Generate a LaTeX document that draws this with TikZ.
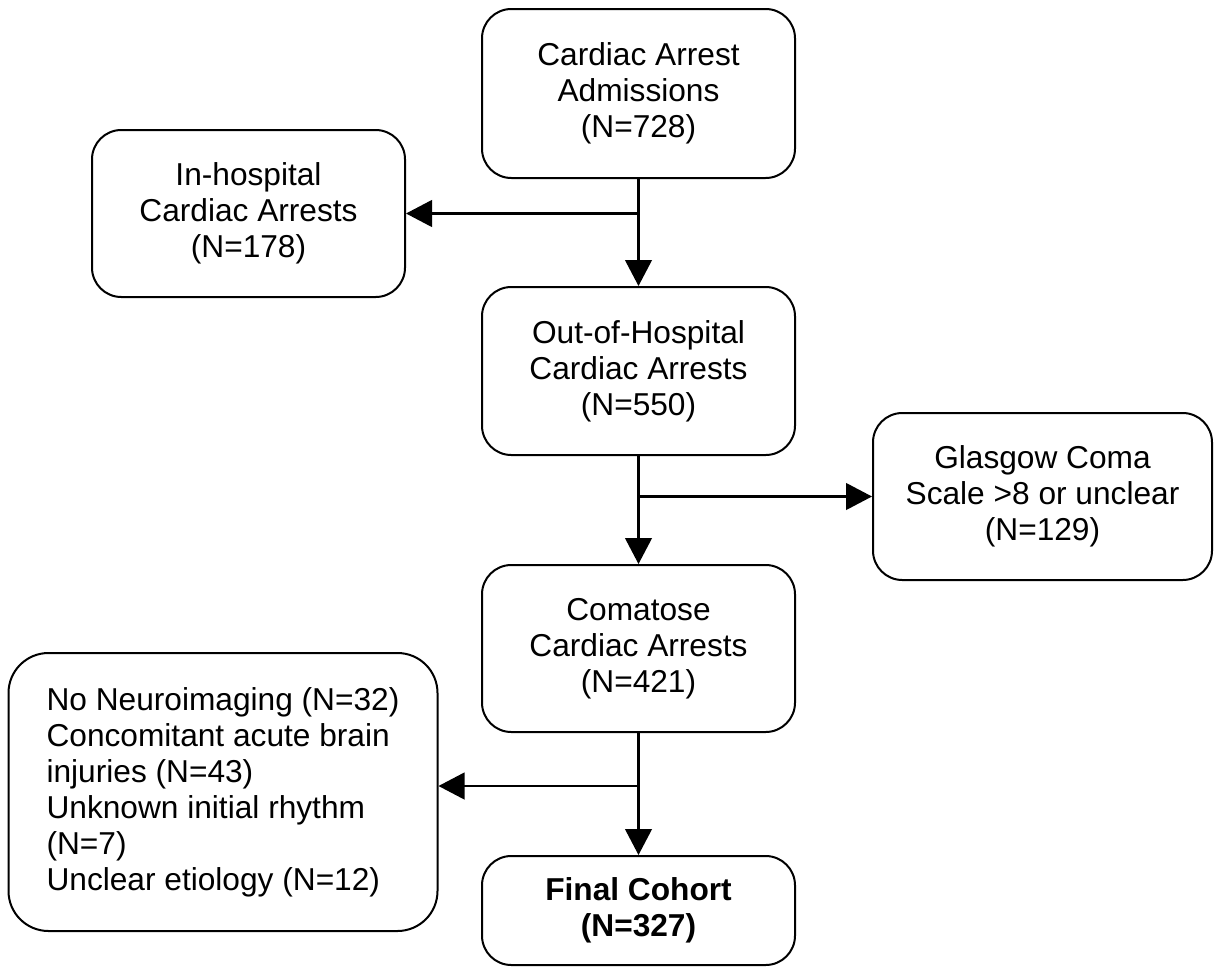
\documentclass[tikz,border=0pt]{standalone}
\usepackage{fontspec}
\setmainfont{Liberation Sans}
\usepackage{tikz}
\usetikzlibrary{arrows.meta,calc}

\begin{document}
\begin{tikzpicture}[x=0.75pt,y=-0.75pt,>={Triangle[length=19.5pt,width=20pt]},
    line width=1.5pt,
    box/.style={draw,rounded corners=22pt,align=center,minimum width=234.75pt,
      font=\fontsize{23.75pt}{27pt}\selectfont},
    conn/.style={->,line width=1.7pt}]
    \useasboundingbox (0,0) rectangle (1217,967);
    \node[box,minimum height=126.75pt] (adm) at (638.5,93.5) {Cardiac Arrest\\Admissions\\(N=728)};
    \node[box,minimum height=125.25pt] (ihca) at (248.5,213.5) {In-hospital\\Cardiac Arrests\\(N=178)};
    \node[box,minimum height=126pt] (ohca) at (638.5,371) {Out-of-Hospital\\Cardiac Arrests\\(N=550)};
    \node[box,minimum width=254.25pt,minimum height=125.25pt] (gcs) at (1042.5,496.5) {Glasgow Coma\\Scale >8 or unclear\\(N=129)};
    \node[box,minimum height=125.25pt] (coma) at (638.5,648.5) {Comatose\\Cardiac Arrests\\(N=421)};
    \node[box,align=left,rounded corners=30pt,minimum width=321.75pt,minimum height=208.5pt] (excl) at (223,792)
      {No Neuroimaging (N=32)\\Concomitant acute brain\\injuries (N=43)\\Unknown initial rhythm\\(N=7)\\Unclear etiology (N=12)};
    \node[box,minimum height=81.75pt] (final) at (638.5,910.5) {\textbf{Final Cohort}\\\textbf{(N=327)}};
    % main flow
    \draw[conn] (adm) -- (ohca);
    \draw[conn] (ohca) -- (coma);
    \draw[conn] (coma) -- (final);
    % exclusions
    \coordinate (j1) at (adm.south |- ihca.east);
    \coordinate (j2) at (ohca.south |- gcs.west);
    \coordinate (j3) at (638.5,786);
    \draw[conn] (j1) -- (ihca);
    \draw[conn] (j2) -- (gcs);
    \draw[conn] (j3) -- (j3 -| excl.east);
\end{tikzpicture}
\end{document}
